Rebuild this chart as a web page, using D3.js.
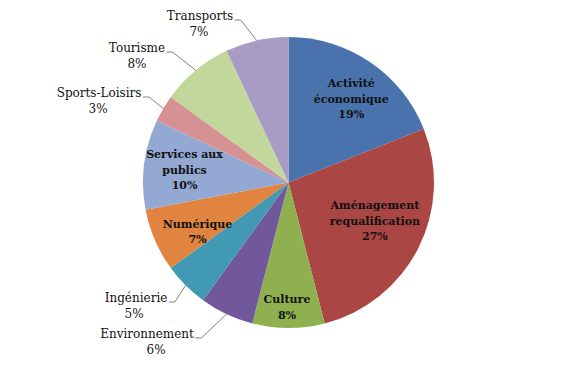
<!DOCTYPE html>
<html>
<head>
<meta charset="utf-8">
<script src="https://cdn.jsdelivr.net/npm/d3@7"></script>
<style>
html,body{margin:0;padding:0;background:#fff;}
svg{display:block;}
</style>
</head>
<body>
<svg id="chart" width="578" height="367"></svg>
<script>
// ---- data ----
const categories = ["Activité économique", "Aménagement requalification", "Culture", "Environnement", "Ingénierie", "Numérique", "Services aux publics", "Sports-Loisirs", "Tourisme", "Transports"];
const values = [19, 27, 8, 6, 5, 7, 10, 3, 8, 7];
const colors = ["#4a72ac", "#aa4644", "#8fb04f", "#71589a", "#4299b3", "#e0843f", "#93a8d2", "#d69292", "#c2d79c", "#a99cc4"];

// ---- layout ----
const W = 578, H = 367;
const cx = 288.5, cy = 182.5, R = 145.5;
const insideLayout = {0: {f: 0.72, da: 2.6}, 1: {f: 0.65, da: -3}, 2: {f: 0.855, da: 0.7}, 5: {f: 0.71, da: -4.8}, 6: {f: 0.72, da: -0.3}};
const outsideLayout = {3: {dx: -79.5, dy: 23.8, pdx: 9}, 4: {dx: -49.6, dy: 16.6, pdx: -2}, 7: {dx: -64.2, dy: -11.4, pdx: -1}, 8: {dx: -58.8, dy: -18.3, pdx: 0}, 9: {dx: -56.8, dy: -20.5, pdx: -1}};

const svg = d3.select("#chart");
const g = svg.append("g").attr("transform", `translate(${cx},${cy})`);

const data = categories.map((c, i) => ({name: c, value: values[i], i}));
const pie = d3.pie().sort(null).value(d => d.value);
const arcs = pie(data);
const arc = d3.arc().innerRadius(0).outerRadius(R);

g.selectAll("path.slice").data(arcs).enter().append("path")
  .attr("class", "slice")
  .attr("d", arc)
  .attr("fill", d => colors[d.data.i]);

function splitLabel(s) {
  const k = s.lastIndexOf(" ");
  return k < 0 ? [s] : [s.slice(0, k), s.slice(k + 1)];
}

// inside labels
const lh = 15.5;
arcs.filter(d => insideLayout[d.data.i]).forEach(d => {
  const L = insideLayout[d.data.i];
  const mid = (d.startAngle + d.endAngle) / 2 + L.da * Math.PI / 180;
  const r = R * L.f;
  const x = r * Math.sin(mid), y = -r * Math.cos(mid);
  const lines = splitLabel(d.data.name).concat([d.data.value + "%"]);
  const t = g.append("text")
    .attr("text-anchor", "middle")
    .attr("font-family", "DejaVu Serif")
    .attr("font-weight", "bold")
    .attr("font-size", 11)
    .attr("fill", "#111");
  const y0 = y - (lines.length - 1) * lh / 2 + 4;
  lines.forEach((ln, j) => {
    t.append("tspan").attr("x", x).attr("y", y0 + j * lh).text(ln);
  });
});

// outside labels with leader lines
arcs.filter(d => outsideLayout[d.data.i]).forEach(d => {
  const L = outsideLayout[d.data.i];
  const mid = (d.startAngle + d.endAngle) / 2;
  const ax = R * Math.sin(mid), ay = -R * Math.cos(mid);
  const tx = ax + L.dx, ty = ay + L.dy;
  const t1 = g.append("text")
    .attr("x", tx).attr("y", ty)
    .attr("text-anchor", "middle")
    .attr("font-family", "DejaVu Serif")
    .attr("font-size", 12)
    .attr("fill", "#111")
    .text(d.data.name);
  g.append("text")
    .attr("x", tx + L.pdx).attr("y", ty + 16)
    .attr("text-anchor", "middle")
    .attr("font-family", "DejaVu Serif")
    .attr("font-size", 12)
    .attr("fill", "#111")
    .text(d.data.value + "%");
  const wText = t1.node().getComputedTextLength();
  const xr = tx + wText / 2 + 1.5;
  g.append("polyline")
    .attr("points", `${xr},${ty} ${xr + 6},${ty} ${ax},${ay}`)
    .attr("fill", "none")
    .attr("stroke", "#808080")
    .attr("stroke-width", 1);
});
</script>
</body>
</html>
